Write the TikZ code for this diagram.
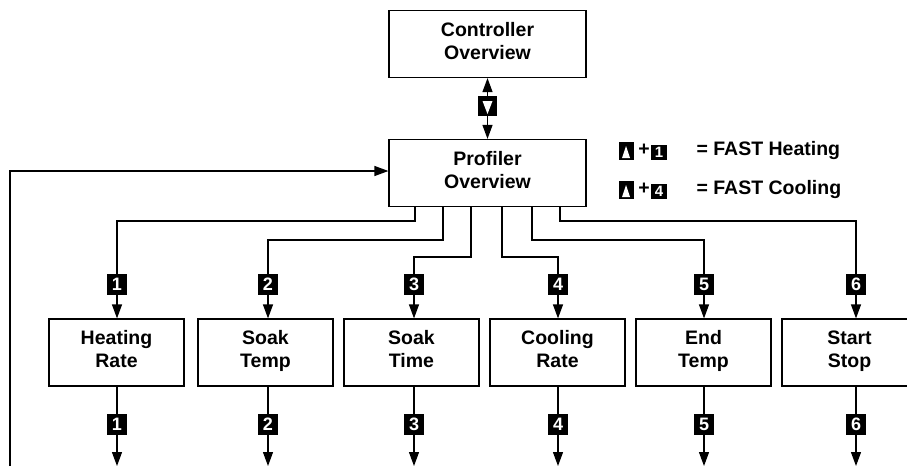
\documentclass[tikz,border=0pt]{standalone}
\usepackage{fontspec}
\setmainfont{Liberation Sans}
\usetikzlibrary{arrows.meta, positioning}

\tikzset{
	menubox/.style={draw, line width=1.2pt, minimum width=135pt, minimum height=67pt,
		align=center, font=\fontsize{19.5}{23}\selectfont\bfseries},
	numkey/.style={fill=black, text=white, inner sep=0pt, minimum width=20pt,
		minimum height=21pt, font=\fontsize{18}{18}\selectfont\bfseries},
	smallkey/.style={numkey, minimum width=16pt, minimum height=15pt,
		font=\fontsize{15}{15}\selectfont\bfseries},
	downkey/.style={fill=black, inner sep=0pt, minimum width=19pt, minimum height=20pt,
		path picture={\fill[white] ([xshift=-5pt,yshift=-5pt]path picture bounding box.north)
			-- ([xshift=5pt,yshift=-5pt]path picture bounding box.north)
			-- ([yshift=2pt]path picture bounding box.south) -- cycle;}},
	upkey/.style={fill=black, inner sep=0pt, minimum width=15pt, minimum height=18pt,
		path picture={\fill[white] ([xshift=-4pt,yshift=2pt]path picture bounding box.south)
			-- ([xshift=4pt,yshift=2pt]path picture bounding box.south)
			-- ([yshift=-4pt]path picture bounding box.north) -- cycle;}},
	legend/.style={font=\fontsize{19.5}{23}\selectfont\bfseries},
	link/.style={line width=1.2pt},
	arr/.style={link, -{Triangle[length=14pt,width=10pt]}},
}

\begin{document}
\begin{tikzpicture}[x=1pt, y=-1pt]
		\useasboundingbox (0,0) rectangle (907,466);

		\node [menubox, minimum width=197pt] (ctrl) at (487.5,44) {Controller\\Overview\strut};
		\node [menubox, minimum width=197pt] (prof) at (487.5,173) {Profiler\\Overview\strut};

		\node [downkey] (nav) at (487.5,106) {};
		\draw [arr] (nav.north) -- (ctrl.south);
		\draw [arr] (nav.south) -- (prof.north);

		% legend
		\node [upkey] (hup) at (626,151) {};
		\node [legend] (hplus) at (644,150) {+};
		\node [smallkey] (hnum) at (659,152.5) {1};
		\node [legend, anchor=west] (htext) at (693,150) {= FAST Heating};

		\node [upkey] (cup) at (626,190) {};
		\node [legend] (cplus) at (644,189) {+};
		\node [smallkey] (cnum) at (659,191.5) {4};
		\node [legend, anchor=west] (ctext) at (693,189) {= FAST Cooling};

		% menu entries
		\foreach \name/\txt/\bx/\kx/\ox/\ly [count=\i] in
			{heat/{Heating\\Rate}/116.5/117/-72.5/221,
			 stemp/{Soak\\Temp}/265.5/268/-44.5/240,
			 stime/{Soak\\Time}/411.5/414/-16.5/257,
			 cool/{Cooling\\Rate}/557.5/558/14.5/257,
			 etemp/{End\\Temp}/703.5/704/44.5/240,
			 start/{Start\\Stop}/849.5/856/72.5/221}
		{
			\node [menubox] (\name) at (\bx,352.5) {\txt\strut};
			\node [numkey] (\name in) at (\kx,284.5) {\i};
			\node [numkey] (\name out) at (\kx,424.5) {\i};
			\coordinate (\name end) at (\kx,466);

			\draw [link] ([xshift=\ox pt]prof.south) |- (\kx,\ly) -- (\name in.north);
			\draw [arr] (\name in.south) -- (\name in.south |- \name.north);
			\draw [link] (\name.south -| \name in) -- (\name out.north);
			\draw [arr] (\name out.south) -- (\name end);
		}

		% back to the profiler
		\coordinate (back) at (10,466);
		\draw [arr] (back) |- ([yshift=2pt]prof.west);
	\end{tikzpicture}
\end{document}
